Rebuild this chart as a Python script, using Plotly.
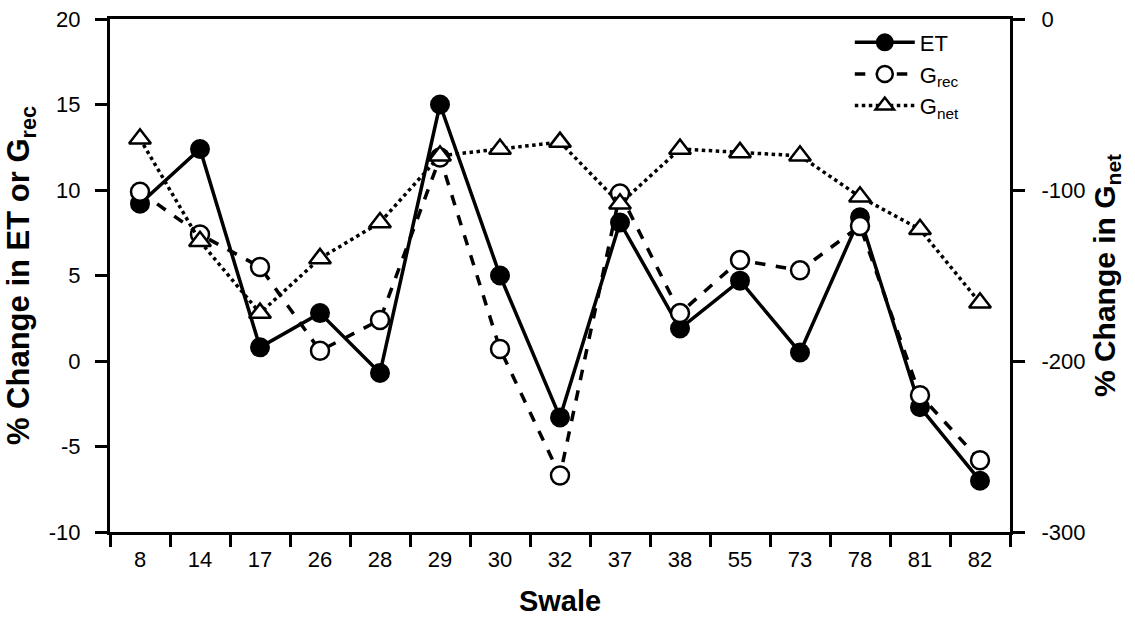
import plotly.graph_objects as go

swales = ["8", "14", "17", "26", "28", "29", "30", "32", "37", "38", "55", "73", "78", "81", "82"]
et = [9.2, 12.4, 0.8, 2.8, -0.7, 15.0, 5.0, -3.3, 8.1, 1.9, 4.7, 0.5, 8.4, -2.7, -7.0]
g_rec = [9.9, 7.4, 5.5, 0.6, 2.4, 11.9, 0.7, -6.7, 9.8, 2.8, 5.9, 5.3, 7.9, -2.0, -5.8]
g_net = [-70, -130, -172, -140, -119, -80, -76, -72, -108, -76, -78, -80, -104, -123, -166]

left_ticks = [-10, -5, 0, 5, 10, 15, 20]
right_ticks = [-300, -200, -100, 0]

font_family = "Liberation Sans, Arial, sans-serif"

fig = go.Figure()
fig.add_trace(go.Scatter(
    x=swales, y=et, name="ET", mode="lines+markers",
    line=dict(color="black", width=3.5, dash="solid"),
    marker=dict(symbol="circle", size=18, color="black", line=dict(color="black", width=2)),
))
fig.add_trace(go.Scatter(
    x=swales, y=g_rec, name="G<sub>rec</sub>", mode="lines+markers",
    line=dict(color="black", width=3.5, dash="dash"),
    marker=dict(symbol="circle", size=18, color="white", line=dict(color="black", width=2.5)),
))
fig.add_trace(go.Scatter(
    x=swales, y=g_net, name="G<sub>net</sub>", mode="lines+markers", yaxis="y2",
    line=dict(color="black", width=3.5, dash="dot"),
    marker=dict(symbol="triangle-up", size=19, color="white", line=dict(color="black", width=2.5)),
))

tick_font = dict(family=font_family, size=22)

fig.update_layout(
    width=1135, height=620,
    margin=dict(l=110, r=125, t=19, b=88),
    plot_bgcolor="white", paper_bgcolor="white",
    font=dict(family=font_family, color="black", size=22),
    showlegend=True,
    legend=dict(
        x=0.822, y=0.995, xanchor="left", yanchor="top",
        bgcolor="rgba(255,255,255,0)", font=dict(size=22),
        tracegroupgap=0, itemwidth=60,
    ),
    xaxis=dict(
        type="category", range=[-0.5, 14.5], automargin=False,
        tickson="boundaries", ticks="outside", ticklen=12, tickwidth=3, tickcolor="black",
        showline=True, linewidth=3, linecolor="black", mirror=True,
        showgrid=False, zeroline=False,
        title=dict(text="<b>Swale</b>", font=dict(size=29), standoff=20),
        tickfont=tick_font, ticklabelstandoff=6,
    ),
    yaxis=dict(
        range=[-10, 20], tickvals=left_ticks, ticktext=[str(v) for v in left_ticks],
        automargin=False,
        ticks="outside", ticklen=12, tickwidth=3, tickcolor="black",
        showline=True, linewidth=3, linecolor="black",
        showgrid=False, zeroline=False,
        title=dict(text="<b>% Change in ET or G<sub>rec</sub></b>", font=dict(size=31), standoff=10),
        tickfont=tick_font, ticklabelstandoff=10,
    ),
    yaxis2=dict(
        range=[-300, 0], overlaying="y", side="right", automargin=False,
        tickvals=right_ticks, ticktext=[str(v) for v in right_ticks],
        ticks="outside", ticklen=12, tickwidth=3, tickcolor="black",
        showline=True, linewidth=3, linecolor="black",
        showgrid=False, zeroline=False,
        title=dict(text="<b>% Change in G<sub>net</sub></b>", font=dict(size=30), standoff=10),
        tickfont=tick_font, ticklabelstandoff=12,
    ),
)

fig.write_html("out.html")
